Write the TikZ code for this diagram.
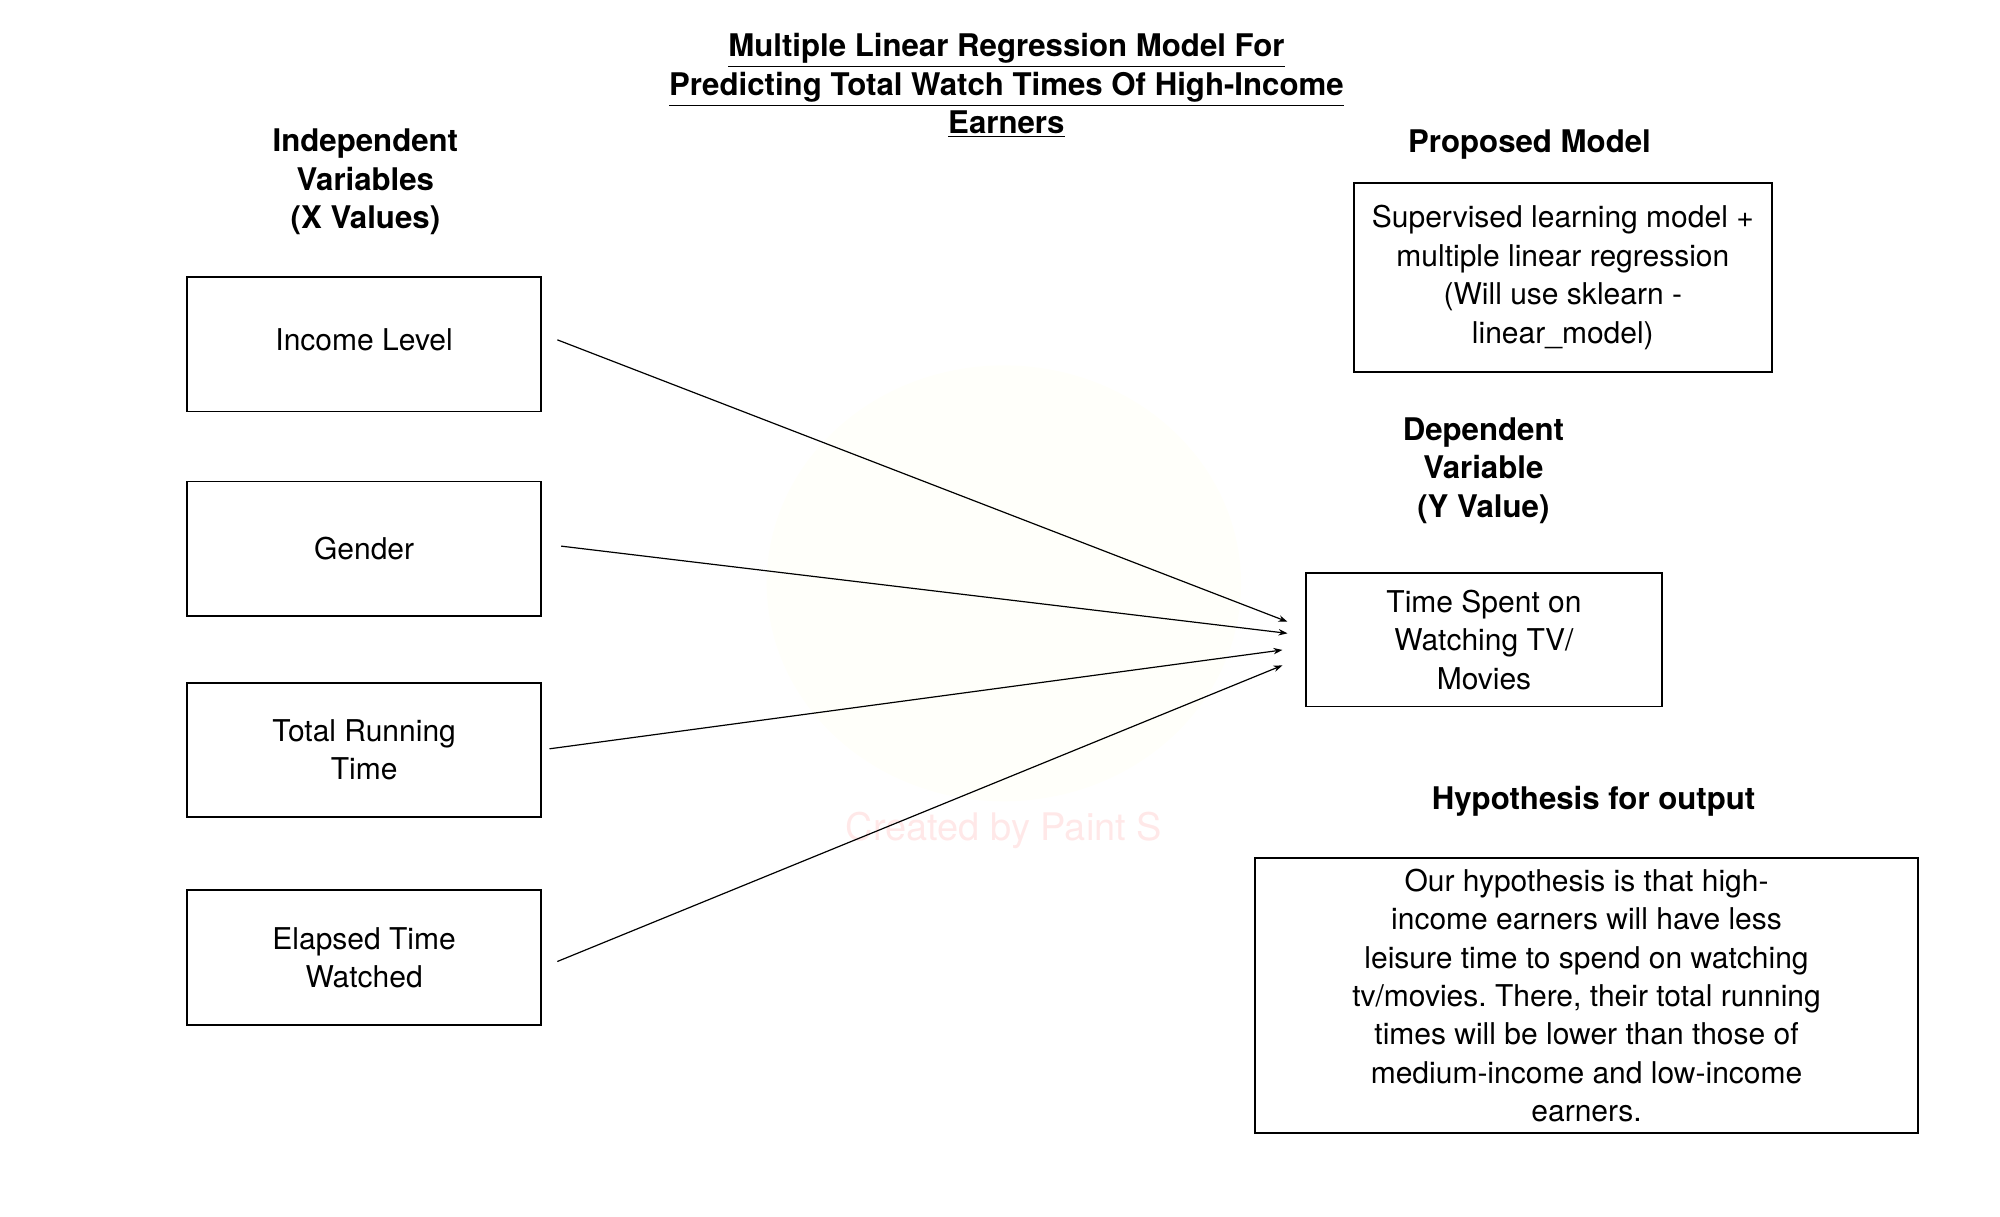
\documentclass[tikz,border=0pt]{standalone}
\usepackage{fontspec}
\setmainfont{TeX Gyre Heros}
\usetikzlibrary{arrows.meta}
\colorlet{wmk}{red!9}
\colorlet{pal}{yellow!2}
\tikzset{
    varbox/.style={draw,line width=0.9pt,align=center,inner sep=0pt,minimum width=176.9pt,minimum height=67.3pt},
    headtxt/.style={align=center,font=\fontsize{15.6}{19.2}\selectfont\bfseries},
    arr/.style={line width=0.6pt,-{Stealth[length=4.5pt,width=3.2pt]}}
}

\begin{document}
\frenchspacing
\begin{tikzpicture}[x=0.641pt,y=-0.641pt,font=\fontsize{15}{19.2}\selectfont]
            \useasboundingbox (0,0) rectangle (1560,948.5);
            % faint watermark
            \fill [pal] (783,455) ellipse [x radius=185,y radius=170];
            \node [wmk,font=\fontsize{19}{22}\selectfont] (wm) at (783,648) {Created by Paint S};
            % headings
            \node [headtxt] (title) at (785,67) {\underline{Multiple Linear Regression Model For}\\
                \underline{Predicting Total Watch Times Of High-Income}\\
                \underline{Earners}};
            \node [headtxt] (indep) at (285,142) {Independent\\Variables\\(X Values)};
            \node [headtxt] (propt) at (1193,113) {Proposed Model};
            \node [headtxt] (dept) at (1157,367) {Dependent\\Variable\\(Y Value)};
            \node [headtxt] (hypt) at (1243,625) {Hypothesis for output};
            % boxes
            \node [varbox] (inc) at (284,268.5) {\raisebox{4.5pt}{Income Level}};
            \node [varbox] (gen) at (284,428) {Gender};
            \node [varbox] (trt) at (284,585) {Total Running\\Time};
            \node [varbox] (etw) at (284,747) {Elapsed Time\\Watched};
            \node [varbox,minimum width=209pt,minimum height=94.2pt] (prop) at (1219,216.5)
                {Supervised learning model +\\multiple linear regression\\(Will use sklearn -\\linear\_model)};
            \node [varbox,minimum width=177.6pt,minimum height=66.7pt] (tsw) at (1157.5,499)
                {Time Spent on\\Watching TV/\\Movies};
            \node [varbox,minimum width=331.4pt,minimum height=137.8pt] (hyp) at (1237.5,776.5)
                {Our hypothesis is that high-\\income earners will have less\\leisure time to spend on watching\\
                tv/movies. There, their total running\\times will be lower than those of\\
                medium-income and low-income\\earners.};
            % connectors
            \foreach \s/\sx/\sy/\ex/\ey in {inc/7.7/2.2/-9/9, gen/9.6/1.3/-9/3.2, trt/3.8/0.6/-11.5/-5.1, etw/7.7/-1.9/-11.5/-12.8} {
                \draw [arr] ([xshift=\sx pt,yshift=\sy pt]\s.east) -- ([xshift=\ex pt,yshift=\ey pt]tsw.west);
            }
        \end{tikzpicture}
\end{document}
